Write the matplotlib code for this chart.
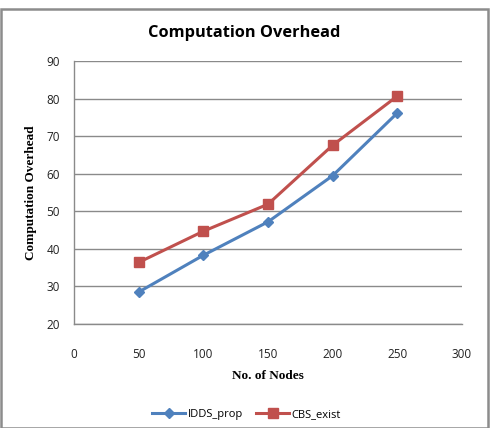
import matplotlib
matplotlib.use("Agg")
import matplotlib.pyplot as plt
from matplotlib.patches import Rectangle

nodes = [50, 100, 150, 200, 250]
idds_prop = [28.5, 38.3, 47.2, 59.5, 76.2]
cbs_exist = [36.4, 44.7, 51.9, 67.6, 80.7]
x_ticks = [0, 50, 100, 150, 200, 250, 300]
y_ticks = [20, 30, 40, 50, 60, 70, 80, 90]

fig = plt.figure(figsize=(4.93, 4.28), dpi=100)
fig.patch.set_facecolor("white")
fig.patches.append(Rectangle((0.003, 0.0), 0.987, 0.978, transform=fig.transFigure,
                             fill=False, edgecolor="#8c8c8c", linewidth=1.8))

ax = fig.add_axes([0.150, 0.243, 0.787, 0.614])
ax.set_xlim(0, 300)
ax.set_ylim(20, 90)
ax.set_xticks(x_ticks)
ax.set_yticks(y_ticks)
ax.yaxis.grid(True, color="#8a8a8a", linewidth=1.0)
ax.set_axisbelow(True)
for s in ["top", "right"]:
    ax.spines[s].set_visible(False)
for s in ["left", "bottom"]:
    ax.spines[s].set_color("#8a8a8a")
    ax.spines[s].set_linewidth(1.0)
ax.tick_params(axis="both", length=0, labelsize=8.5, colors="#222222")
ax.tick_params(axis="x", pad=17)
ax.tick_params(axis="y", pad=10)
for lab in ax.get_xticklabels() + ax.get_yticklabels():
    lab.set_fontfamily("Open Sans")

ax.plot(nodes, idds_prop, color="#4F81BD", linewidth=2.2, marker="D", markersize=5.5,
        label="IDDS_prop")
ax.plot(nodes, cbs_exist, color="#C0504D", linewidth=2.2, marker="s", markersize=7.5,
        label="CBS_exist")

fig.text(0.495, 0.922, "Computation Overhead", ha="center", va="center",
         fontsize=11.8, fontweight="bold", fontfamily="Open Sans")
ax.set_xlabel("No. of Nodes", fontsize=9.5, fontweight="bold", fontfamily="Liberation Serif",
              labelpad=7)
fig.text(0.062, 0.55, "Computation Overhead", rotation=90, ha="center", va="center",
         fontsize=9.5, fontweight="bold", fontfamily="Liberation Serif")

leg = fig.legend(loc="center", bbox_to_anchor=(0.5, 0.032), ncol=2, frameon=False,
                 prop={"family": "Open Sans", "size": 8}, handlelength=3.0,
                 columnspacing=1.2, handletextpad=0.2)

fig.savefig("out.png", dpi=100)
